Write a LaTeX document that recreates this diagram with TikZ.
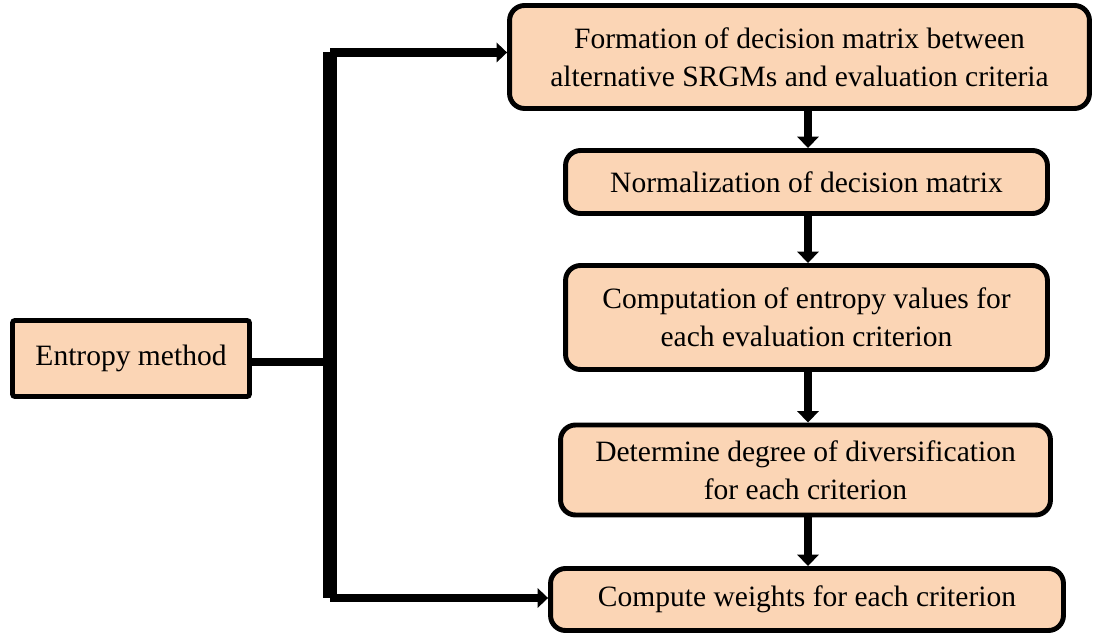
\documentclass[tikz,border=0pt]{standalone}
\usepackage{fontspec}
\setmainfont{Liberation Serif}
\usetikzlibrary{arrows.meta}
\definecolor{peach}{HTML}{FBD5B5}
\tikzset{
  stepbox/.style={draw=black, line width=2.8pt, fill=peach, rounded corners=0.3cm,
    align=center, inner sep=0pt, font=\fontsize{16.8}{21.6}\selectfont},
  startbox/.style={stepbox, rounded corners=0.05cm},
  varrow/.style={line width=4.5pt, -{Triangle[width=12pt,length=6.5pt]}},
  harrow/.style={line width=5pt, -{Triangle[width=11pt,length=6pt]}},
  trunk/.style={line width=7.8pt, line cap=square},
  feeder/.style={line width=5pt}
}
\begin{document}
\begin{tikzpicture}[x=0.02cm, y=-0.02cm]
\useasboundingbox (0,0) rectangle (1095,641);
\node[startbox, minimum width=4.74cm, minimum height=1.52cm] (e) at (131,358.5) {Entropy method};
\node[stepbox, minimum width=11.6cm, minimum height=2.06cm] (b1) at (799.5,57)
  {Formation of decision matrix between\\alternative SRGMs and evaluation criteria};
\node[stepbox, minimum width=9.64cm, minimum height=1.26cm] (b2) at (806.5,182)
  {Normalization of decision matrix};
\node[stepbox, minimum width=9.64cm, minimum height=2.08cm] (b3) at (806.5,317.5)
  {Computation of entropy values for\\each evaluation criterion};
\node[stepbox, minimum width=9.8cm, minimum height=1.8cm] (b4) at (805.5,470)
  {Determine degree of diversification\\for each criterion};
\node[stepbox, minimum width=10.26cm, minimum height=1.24cm] (b5) at (807,599.5)
  {Compute weights for each criterion};
\coordinate (jm) at (330,362);
\coordinate (jt) at (330,52.5);
\coordinate (jb) at (330,598);
\coordinate (ax) at (808,0);
\draw[feeder] (e.east |- jm) -- (jm);
\draw[trunk] (jt) -- (jb);
\draw[harrow] (jt) -- (jt -| b1.west);
\draw[harrow] (jb) -- (jb -| b5.west);
\draw[varrow] (b1.south -| ax) -- (b2.north -| ax);
\draw[varrow] (b2.south -| ax) -- (b3.north -| ax);
\draw[varrow] (b3.south -| ax) -- (b4.north -| ax);
\draw[varrow] (b4.south -| ax) -- (b5.north -| ax);
\end{tikzpicture}
\end{document}
